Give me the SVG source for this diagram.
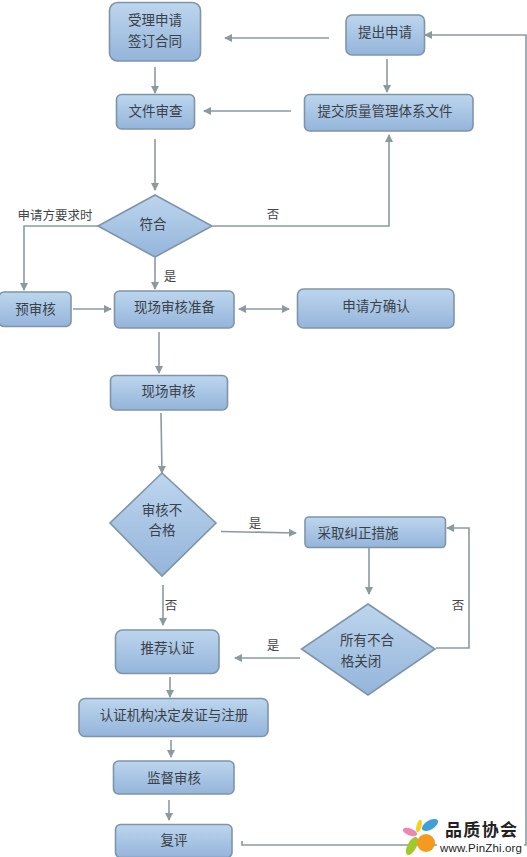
<svg xmlns="http://www.w3.org/2000/svg" width="527" height="857" viewBox="0 0 527 857">
<style>
.n{fill:url(#g);stroke:#7f94a8;stroke-width:1.6}
.t{font-family:"Noto Sans CJK SC","Liberation Sans",sans-serif;font-size:13.5px;fill:#3a4148;text-anchor:middle}
.l{font-family:"Noto Sans CJK SC","Liberation Sans",sans-serif;font-size:12.5px;fill:#44474a;text-anchor:middle}
.c{fill:none;stroke:#8b9a9f;stroke-width:1.6;marker-end:url(#a)}
</style>
<defs>
<linearGradient id="g" x1="0" y1="0" x2="0" y2="1"><stop offset="0" stop-color="#bdd6ee"/><stop offset="1" stop-color="#94b4da"/></linearGradient>
<marker id="a" viewBox="0 0 8 8" refX="7" refY="4" markerWidth="8" markerHeight="8" markerUnits="userSpaceOnUse" orient="auto-start-reverse"><path d="M0 0L8 4L0 8Z" fill="#8b9a9f"/></marker>
</defs>
<rect width="527" height="857" fill="#fff"/>
<g id="connectors">
<path class="c" d="M329 38H225"/>
<path class="c" d="M155 67V93"/>
<path class="c" d="M387 59V92"/>
<path class="c" d="M291 111H204"/>
<path class="c" d="M155 139V190"/>
<path class="c" d="M213 226H389V135"/>
<path class="c" d="M98 226H24V290"/>
<path class="c" d="M155 258V289"/>
<path class="c" d="M73 309H111"/>
<path class="c" d="M239 309H289" marker-start="url(#a)"/>
<path class="c" d="M159 332V373"/>
<path class="c" d="M161 413L162 473"/>
<path class="c" d="M221 531.500L296 533"/>
<path class="c" d="M369 547V594"/>
<path class="c" d="M436 648H469V528H447"/>
<path class="c" d="M300 658H235"/>
<path class="c" d="M163 585V625"/>
<path class="c" d="M170 677V697"/>
<path class="c" d="M171 740V757"/>
<path class="c" d="M169 800V820"/>
<path class="c" d="M242 841V845H526V35H425"/>
<text class="l" x="55" y="220">申请方要求时</text>
<text class="l" x="273" y="219">否</text>
<text class="l" x="170" y="281">是</text>
<text class="l" x="255" y="528">是</text>
<text class="l" x="171" y="610">否</text>
<text class="l" x="458" y="610">否</text>
<text class="l" x="273" y="650">是</text>
</g>
<g id="n1"><rect class="n" x="109.500" y="2.500" width="91" height="58.500" rx="8"/><text class="t" x="155" y="25">受理申请</text><text class="t" x="155" y="46">签订合同</text></g>
<g id="n2"><rect class="n" x="346" y="15" width="78.500" height="40" rx="6"/><text class="t" x="385" y="37">提出申请</text></g>
<g id="n3"><rect class="n" x="116.500" y="94.500" width="78" height="34.500" rx="5"/><text class="t" x="155.500" y="116">文件审查</text></g>
<g id="n4"><rect class="n" x="304.500" y="94.500" width="168.500" height="36.500" rx="5"/><text class="t" x="385" y="116">提交质量管理体系文件</text></g>
<g id="n5"><path class="n" d="M155 195L212 226L155 257L98 226Z"/><text class="t" x="153" y="229">符合</text></g>
<g id="n6"><rect class="n" x="-1" y="292" width="72" height="34.500" rx="5"/><text class="t" x="35.500" y="314">预审核</text></g>
<g id="n7"><rect class="n" x="114.500" y="291" width="119.500" height="37" rx="5"/><text class="t" x="174.500" y="312">现场审核准备</text></g>
<g id="n8"><rect class="n" x="297.500" y="289" width="156.500" height="39" rx="6"/><text class="t" x="376" y="311">申请方确认</text></g>
<g id="n9"><rect class="n" x="110.500" y="375.500" width="117" height="34.500" rx="5"/><text class="t" x="168.500" y="396">现场审核</text></g>
<g id="n10"><path class="n" d="M162 473L216 523L162 576L110 523Z"/><text class="t" x="162" y="515">审核不</text><text class="t" x="162" y="535">合格</text></g>
<g id="n11"><rect class="n" x="305" y="517" width="140.500" height="30.500" rx="4"/><text class="t" x="358" y="538">采取纠正措施</text></g>
<g id="n12"><path class="n" d="M368 604L435 649L368 695L301.500 649Z"/><text class="t" x="367" y="645">所有不合</text><text class="t" x="361" y="666">格关闭</text></g>
<g id="n13"><rect class="n" x="115.500" y="630" width="103.500" height="43.500" rx="7"/><text class="t" x="167.500" y="653">推荐认证</text></g>
<g id="n14"><rect class="n" x="79" y="698.500" width="189" height="38" rx="6"/><text class="t" x="174" y="720">认证机构决定发证与注册</text></g>
<g id="n15"><rect class="n" x="113.500" y="761" width="120.500" height="33" rx="5"/><text class="t" x="174" y="783">监督审核</text></g>
<g id="n16"><rect class="n" x="115.500" y="824.500" width="116.500" height="33" rx="5"/><text class="t" x="174" y="845">复评</text></g>
<g id="logo">
<rect x="437" y="820" width="87" height="34" fill="#fff"/>
<ellipse cx="410" cy="832" rx="7.500" ry="3.500" fill="#ee86b0" transform="rotate(20 410 832)"/>
<ellipse cx="412" cy="846" rx="10" ry="4.500" fill="#a3c82d" transform="rotate(-62 412 846)"/>
<ellipse cx="419" cy="826" rx="2.500" ry="6.500" fill="#f3d11f" transform="rotate(15 419 826)"/>
<ellipse cx="430" cy="825" rx="9" ry="4.500" fill="#3f9fd8" transform="rotate(-30 430 825)"/>
<circle cx="426" cy="843" r="9" fill="#f49a1f"/>
<text x="445" y="836" font-family="'Noto Sans CJK SC',sans-serif" font-size="17" font-weight="700" fill="#222" textLength="72">品质协会</text>
<text x="440" y="852" font-family="'Liberation Sans',sans-serif" font-size="11.500" fill="#222" textLength="82">www.PinZhi.org</text>
</g>
</svg>
